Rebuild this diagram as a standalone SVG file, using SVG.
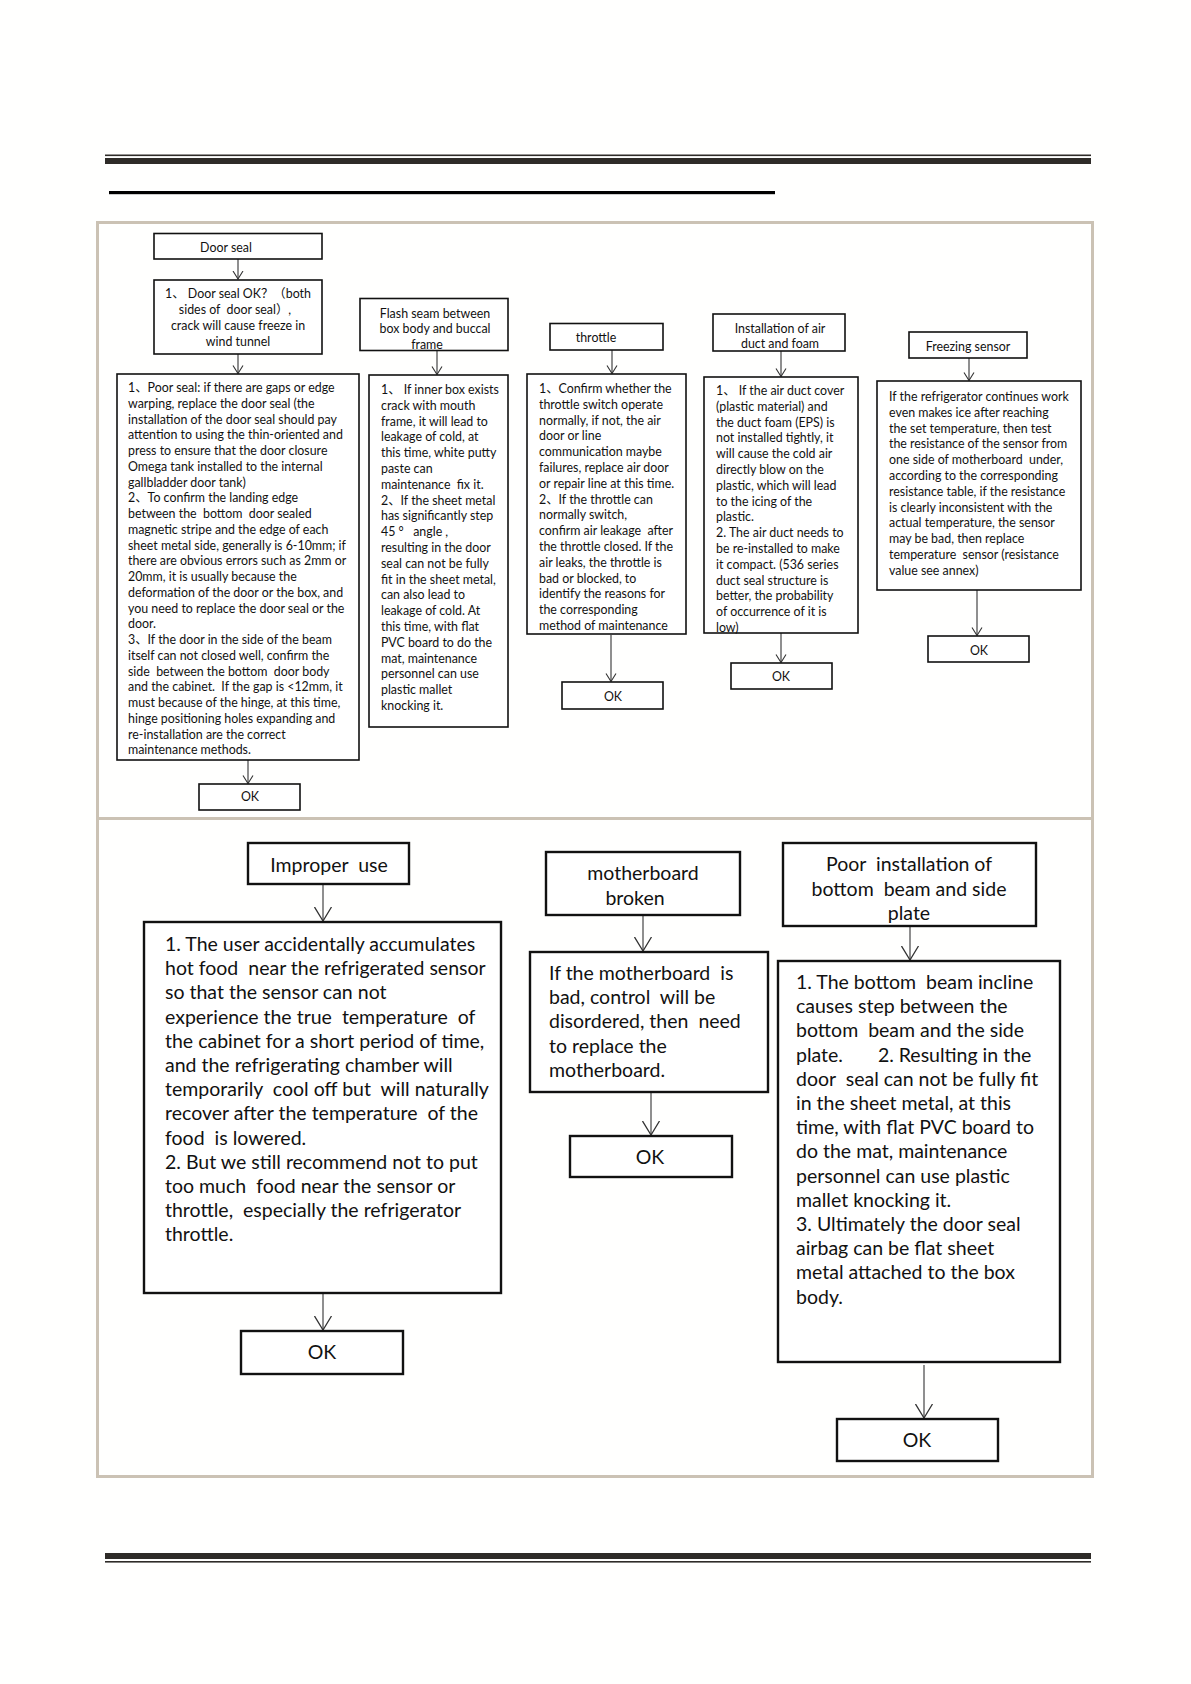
<svg xmlns="http://www.w3.org/2000/svg" width="1191" height="1684" viewBox="0 0 1191 1684">
<style>
.bg{fill:#fffffe}
.box{fill:#ffffff;stroke:#111;stroke-width:1.6}
.boxb{fill:#ffffff;stroke:#111;stroke-width:2.4}
.t{font-family:Lato,"Noto Sans CJK SC",sans-serif;font-size:12.4px;fill:#111;white-space:pre}
.tb{font-family:Lato,"Noto Sans CJK SC",sans-serif;font-size:19.5px;fill:#111;white-space:pre}
.c{text-anchor:middle}
.con line{stroke:#333;stroke-width:1.1;fill:none}
</style>
<defs>
<marker id="v" markerUnits="userSpaceOnUse" markerWidth="10" markerHeight="12" refX="8.5" refY="6" orient="auto" viewBox="0 0 10 12">
<path d="M0.5,1 L8.5,6 L0.5,11" fill="none" stroke="#333" stroke-width="1.1"/>
</marker>
<marker id="vb" markerUnits="userSpaceOnUse" markerWidth="16" markerHeight="19" refX="14.5" refY="9.5" orient="auto" viewBox="0 0 16 19">
<path d="M0.5,1 L14.5,9.5 L0.5,18" fill="none" stroke="#333" stroke-width="1.3"/>
</marker>
</defs>
<rect class="bg" x="0" y="0" width="1191" height="1684"/>

<g id="page-rules">
<rect x="105" y="154.5" width="986" height="1.6" fill="#2e2b28"/>
<rect x="105" y="158" width="986" height="6" fill="#2e2b28"/>
<rect x="109" y="191" width="666" height="3.2" fill="#000"/>
<rect x="105" y="1553" width="986" height="6" fill="#2e2b28"/>
<rect x="105" y="1561" width="986" height="1.6" fill="#2e2b28"/>
</g>

<g id="frame">
<rect x="97.5" y="222.5" width="995" height="1254" fill="none" stroke="#cbc2b4" stroke-width="3"/>
<line x1="97" y1="818.5" x2="1093" y2="818.5" stroke="#cbc2b4" stroke-width="3"/>
</g>

<g id="connectors" class="con">
<line x1="238" y1="259" x2="238" y2="279" marker-end="url(#v)"/>
<line x1="238" y1="354" x2="238" y2="373.5" marker-end="url(#v)"/>
<line x1="248" y1="760" x2="248" y2="783.5" marker-end="url(#v)"/>
<line x1="437" y1="351" x2="437" y2="374.5" marker-end="url(#v)"/>
<line x1="612" y1="350" x2="612" y2="373.5" marker-end="url(#v)"/>
<line x1="611" y1="635" x2="611" y2="681.5" marker-end="url(#v)"/>
<line x1="781" y1="351" x2="781" y2="376.5" marker-end="url(#v)"/>
<line x1="781" y1="633" x2="781" y2="662.5" marker-end="url(#v)"/>
<line x1="969" y1="358" x2="969" y2="380.5" marker-end="url(#v)"/>
<line x1="977" y1="590" x2="977" y2="635.5" marker-end="url(#v)"/>
<line x1="323" y1="884" x2="323" y2="921" marker-end="url(#vb)"/>
<line x1="323" y1="1293" x2="323" y2="1330" marker-end="url(#vb)"/>
<line x1="643" y1="915" x2="643" y2="951" marker-end="url(#vb)"/>
<line x1="651" y1="1092" x2="651" y2="1135" marker-end="url(#vb)"/>
<line x1="910" y1="926" x2="910" y2="960" marker-end="url(#vb)"/>
<line x1="924" y1="1365" x2="924" y2="1418" marker-end="url(#vb)"/>
</g>

<g id="door-seal">
<rect class="box" x="154" y="233.5" width="168" height="25.5"/>
<text class="t c" x="226" y="252">Door seal</text>
</g>

<g id="door-seal-ok-question">
<rect class="box" x="154" y="280" width="168" height="74"/>
<text class="t c"><tspan x="238" y="298">1、 Door seal OK？（both</tspan><tspan x="235" y="314">sides of  door seal）,</tspan><tspan x="238" y="330">crack will cause freeze in</tspan><tspan x="238" y="346">wind tunnel</tspan></text>
</g>

<g id="door-seal-detail">
<rect class="box" x="117" y="374" width="242" height="386"/>
<text class="t"><tspan x="128" y="392">1、Poor seal: if there are gaps or edge</tspan><tspan x="128" dy="15.75">warping, replace the door seal (the</tspan><tspan x="128" dy="15.75">installation of the door seal should pay</tspan><tspan x="128" dy="15.75">attention to using the thin-oriented and</tspan><tspan x="128" dy="15.75">press to ensure that the door closure</tspan><tspan x="128" dy="15.75">Omega tank installed to the internal</tspan><tspan x="128" dy="15.75">gallbladder door tank)</tspan><tspan x="128" dy="15.75">2、To confirm the landing edge</tspan><tspan x="128" dy="15.75">between the  bottom  door sealed</tspan><tspan x="128" dy="15.75">magnetic stripe and the edge of each</tspan><tspan x="128" dy="15.75">sheet metal side, generally is 6-10mm; if</tspan><tspan x="128" dy="15.75">there are obvious errors such as 2mm or</tspan><tspan x="128" dy="15.75">20mm, it is usually because the</tspan><tspan x="128" dy="15.75">deformation of the door or the box, and</tspan><tspan x="128" dy="15.75">you need to replace the door seal or the</tspan><tspan x="128" dy="15.75">door.</tspan><tspan x="128" dy="15.75">3、If the door in the side of the beam</tspan><tspan x="128" dy="15.75">itself can not closed well, confirm the</tspan><tspan x="128" dy="15.75">side  between the bottom  door body</tspan><tspan x="128" dy="15.75">and the cabinet.  If the gap is &lt;12mm, it</tspan><tspan x="128" dy="15.75">must because of the hinge, at this time,</tspan><tspan x="128" dy="15.75">hinge positioning holes expanding and</tspan><tspan x="128" dy="15.75">re-installation are the correct</tspan><tspan x="128" dy="15.75">maintenance methods.</tspan></text>
</g>

<g id="door-seal-result">
<rect class="box" x="199" y="784" width="101" height="26"/>
<text class="t c" x="250" y="801">OK</text>
</g>

<g id="flash-seam">
<rect class="box" x="360" y="298.5" width="148" height="52"/>
<text class="t c"><tspan x="435" y="318">Flash seam between</tspan><tspan x="435" y="333">box body and buccal</tspan><tspan x="427" y="349">frame</tspan></text>
</g>

<g id="flash-seam-detail">
<rect class="box" x="369" y="375" width="139" height="352"/>
<text class="t"><tspan x="381" y="394">1、 If inner box exists</tspan><tspan x="381" dy="15.8">crack with mouth</tspan><tspan x="381" dy="15.8">frame, it will lead to</tspan><tspan x="381" dy="15.8">leakage of cold, at</tspan><tspan x="381" dy="15.8">this time, white putty</tspan><tspan x="381" dy="15.8">paste can</tspan><tspan x="381" dy="15.8">maintenance  fix it.</tspan><tspan x="381" dy="15.8">2、If the sheet metal</tspan><tspan x="381" dy="15.8">has significantly step</tspan><tspan x="381" dy="15.8">45 °   angle ,</tspan><tspan x="381" dy="15.8">resulting in the door</tspan><tspan x="381" dy="15.8">seal can not be fully</tspan><tspan x="381" dy="15.8">fit in the sheet metal,</tspan><tspan x="381" dy="15.8">can also lead to</tspan><tspan x="381" dy="15.8">leakage of cold. At</tspan><tspan x="381" dy="15.8">this time, with flat</tspan><tspan x="381" dy="15.8">PVC board to do the</tspan><tspan x="381" dy="15.8">mat, maintenance</tspan><tspan x="381" dy="15.8">personnel can use</tspan><tspan x="381" dy="15.8">plastic mallet</tspan><tspan x="381" dy="15.8">knocking it.</tspan></text>
</g>

<g id="throttle">
<rect class="box" x="550" y="323.5" width="113" height="26.5"/>
<text class="t c" x="596" y="342">throttle</text>
</g>

<g id="throttle-detail">
<rect class="box" x="527" y="374" width="159" height="260"/>
<text class="t"><tspan x="539" y="393">1、Confirm whether the</tspan><tspan x="539" dy="15.8">throttle switch operate</tspan><tspan x="539" dy="15.8">normally, if not, the air</tspan><tspan x="539" dy="15.8">door or line</tspan><tspan x="539" dy="15.8">communication maybe</tspan><tspan x="539" dy="15.8">failures, replace air door</tspan><tspan x="539" dy="15.8">or repair line at this time.</tspan><tspan x="539" dy="15.8">2、If the throttle can</tspan><tspan x="539" dy="15.8">normally switch,</tspan><tspan x="539" dy="15.8">confirm air leakage  after</tspan><tspan x="539" dy="15.8">the throttle closed. If the</tspan><tspan x="539" dy="15.8">air leaks, the throttle is</tspan><tspan x="539" dy="15.8">bad or blocked, to</tspan><tspan x="539" dy="15.8">identify the reasons for</tspan><tspan x="539" dy="15.8">the corresponding</tspan><tspan x="539" dy="15.8">method of maintenance</tspan></text>
</g>

<g id="throttle-result">
<rect class="box" x="562" y="682" width="101" height="27"/>
<text class="t c" x="613" y="701">OK</text>
</g>

<g id="air-duct">
<rect class="box" x="713" y="314" width="132" height="37"/>
<text class="t c"><tspan x="780" y="333">Installation of air</tspan><tspan x="780" y="348">duct and foam</tspan></text>
</g>

<g id="air-duct-detail">
<rect class="box" x="704" y="377" width="154" height="256"/>
<text class="t"><tspan x="716" y="395">1、 If the air duct cover</tspan><tspan x="716" dy="15.8">(plastic material) and</tspan><tspan x="716" dy="15.8">the duct foam (EPS) is</tspan><tspan x="716" dy="15.8">not installed tightly, it</tspan><tspan x="716" dy="15.8">will cause the cold air</tspan><tspan x="716" dy="15.8">directly blow on the</tspan><tspan x="716" dy="15.8">plastic, which will lead</tspan><tspan x="716" dy="15.8">to the icing of the</tspan><tspan x="716" dy="15.8">plastic.</tspan><tspan x="716" dy="15.8">2. The air duct needs to</tspan><tspan x="716" dy="15.8">be re-installed to make</tspan><tspan x="716" dy="15.8">it compact. (536 series</tspan><tspan x="716" dy="15.8">duct seal structure is</tspan><tspan x="716" dy="15.8">better, the probability</tspan><tspan x="716" dy="15.8">of occurrence of it is</tspan><tspan x="716" dy="15.8">low)</tspan></text>
</g>

<g id="air-duct-result">
<rect class="box" x="731" y="663" width="101" height="26"/>
<text class="t c" x="781" y="681">OK</text>
</g>

<g id="freezing-sensor">
<rect class="box" x="909" y="332" width="118" height="26"/>
<text class="t c" x="968" y="351">Freezing sensor</text>
</g>

<g id="freezing-sensor-detail">
<rect class="box" x="877" y="381" width="204" height="209"/>
<text class="t"><tspan x="889" y="401">If the refrigerator continues work</tspan><tspan x="889" dy="15.8">even makes ice after reaching</tspan><tspan x="889" dy="15.8">the set temperature, then test</tspan><tspan x="889" dy="15.8">the resistance of the sensor from</tspan><tspan x="889" dy="15.8">one side of motherboard  under,</tspan><tspan x="889" dy="15.8">according to the corresponding</tspan><tspan x="889" dy="15.8">resistance table, if the resistance</tspan><tspan x="889" dy="15.8">is clearly inconsistent with the</tspan><tspan x="889" dy="15.8">actual temperature, the sensor</tspan><tspan x="889" dy="15.8">may be bad, then replace</tspan><tspan x="889" dy="15.8">temperature  sensor (resistance</tspan><tspan x="889" dy="15.8">value see annex)</tspan></text>
</g>

<g id="freezing-sensor-result">
<rect class="box" x="928" y="636" width="101" height="26"/>
<text class="t c" x="979" y="655">OK</text>
</g>

<g id="improper-use">
<rect class="boxb" x="248" y="843" width="161" height="41"/>
<text class="tb c" x="329" y="872">Improper  use</text>
</g>

<g id="improper-use-detail">
<rect class="boxb" x="144" y="922" width="357" height="371"/>
<text class="tb"><tspan x="165" y="951">1. The user accidentally accumulates</tspan><tspan x="165" dy="24.2">hot food  near the refrigerated sensor</tspan><tspan x="165" dy="24.2">so that the sensor can not</tspan><tspan x="165" dy="24.2">experience the true  temperature  of</tspan><tspan x="165" dy="24.2">the cabinet for a short period of time,</tspan><tspan x="165" dy="24.2">and the refrigerating chamber will</tspan><tspan x="165" dy="24.2">temporarily  cool off but  will naturally</tspan><tspan x="165" dy="24.2">recover after the temperature  of the</tspan><tspan x="165" dy="24.2">food  is lowered.</tspan><tspan x="165" dy="24.2">2. But we still recommend not to put</tspan><tspan x="165" dy="24.2">too much  food near the sensor or</tspan><tspan x="165" dy="24.2">throttle,  especially the refrigerator</tspan><tspan x="165" dy="24.2">throttle.</tspan></text>
</g>

<g id="improper-use-result">
<rect class="boxb" x="241" y="1331" width="162" height="43"/>
<text class="tb c" x="322" y="1359">OK</text>
</g>

<g id="motherboard-broken">
<rect class="boxb" x="546" y="852" width="194" height="63"/>
<text class="tb c"><tspan x="643" y="880">motherboard</tspan><tspan x="635" y="905">broken</tspan></text>
</g>

<g id="motherboard-detail">
<rect class="boxb" x="530" y="952" width="238" height="140"/>
<text class="tb"><tspan x="549" y="980">If the motherboard  is</tspan><tspan x="549" dy="24.2">bad, control  will be</tspan><tspan x="549" dy="24.2">disordered, then  need</tspan><tspan x="549" dy="24.2">to replace the</tspan><tspan x="549" dy="24.2">motherboard.</tspan></text>
</g>

<g id="motherboard-result">
<rect class="boxb" x="570" y="1136" width="162" height="41"/>
<text class="tb c" x="650" y="1164">OK</text>
</g>

<g id="poor-installation">
<rect class="boxb" x="783" y="843" width="253" height="83"/>
<text class="tb c"><tspan x="909" y="871">Poor  installation of</tspan><tspan x="909" y="896">bottom  beam and side</tspan><tspan x="909" y="920">plate</tspan></text>
</g>

<g id="poor-installation-detail">
<rect class="boxb" x="778" y="961" width="282" height="401"/>
<text class="tb"><tspan x="796" y="989">1. The bottom  beam incline</tspan><tspan x="796" dy="24.2">causes step between the</tspan><tspan x="796" dy="24.2">bottom  beam and the side</tspan><tspan x="796" dy="24.2">plate.       2. Resulting in the</tspan><tspan x="796" dy="24.2">door  seal can not be fully fit</tspan><tspan x="796" dy="24.2">in the sheet metal, at this</tspan><tspan x="796" dy="24.2">time, with flat PVC board to</tspan><tspan x="796" dy="24.2">do the mat, maintenance</tspan><tspan x="796" dy="24.2">personnel can use plastic</tspan><tspan x="796" dy="24.2">mallet knocking it.</tspan><tspan x="796" dy="24.2">3. Ultimately the door seal</tspan><tspan x="796" dy="24.2">airbag can be flat sheet</tspan><tspan x="796" dy="24.2">metal attached to the box</tspan><tspan x="796" dy="24.2">body.</tspan></text>
</g>

<g id="poor-installation-result">
<rect class="boxb" x="837" y="1419" width="161" height="42"/>
<text class="tb c" x="917" y="1447">OK</text>
</g>
</svg>
